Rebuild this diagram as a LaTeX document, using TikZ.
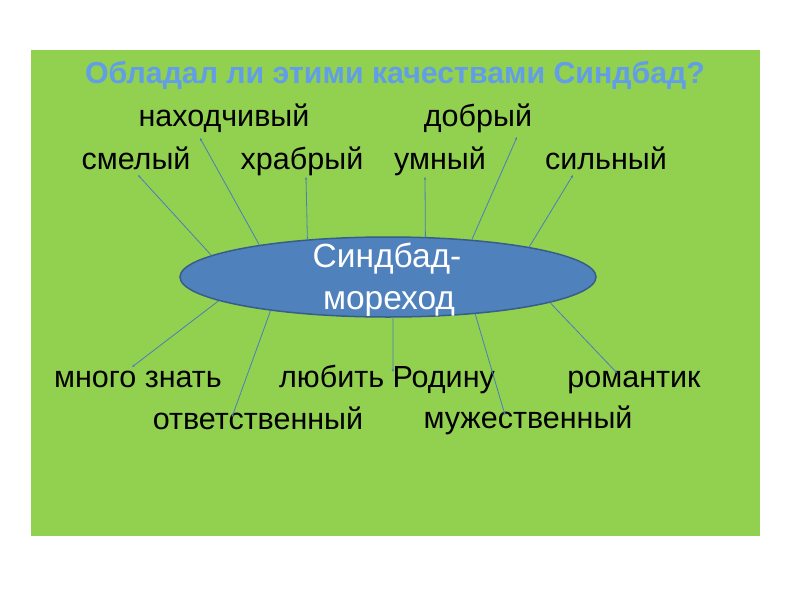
\documentclass[tikz,border=0pt]{standalone}
\usepackage{fontspec}
\setmainfont{Liberation Sans}
\usetikzlibrary{arrows.meta,shapes.geometric}
\definecolor{bggreen}{RGB}{146,208,80}
\definecolor{titleblue}{RGB}{98,158,232}
\definecolor{ellfill}{RGB}{79,129,189}
\definecolor{elldraw}{RGB}{56,93,138}
\definecolor{linkblue}{RGB}{74,126,187}
\tikzset{
  word/.style={anchor=base, inner sep=0pt, font=\fontsize{30.5}{36}\selectfont, text=black},
  titletext/.style={anchor=base, inner sep=0pt, font=\fontsize{30.3}{36}\selectfont\bfseries, text=titleblue},
  ell/.style={ellipse, draw=elldraw, line width=1.5pt, fill=ellfill, minimum width=416pt, minimum height=80pt, inner sep=0pt},
  elltext/.style={anchor=base, inner sep=0pt, font=\fontsize{33.5}{40}\selectfont, text=white},
  link/.style={draw=linkblue, line width=0.8pt, -{Stealth[length=3pt,width=2.5pt]}}
}
\begin{document}
\begin{tikzpicture}[x=1pt,y=-1pt]
\useasboundingbox (0,0) rectangle (800,600);
\fill[white] (0,0) rectangle (800,600);
\fill[bggreen] (31,50) rectangle (760,536);

\node[titletext] (title) at (395,83) {Обладал ли этими качествами Синдбад?};

\node[word] (nakh) at (224,126) {находчивый};
\node[word] (dobr) at (478,126) {добрый};
\node[word] (smel) at (136,169) {смелый};
\node[word] (khrab) at (302,169) {храбрый};
\node[word] (umn) at (440,169) {умный};
\node[word] (siln) at (606,169) {сильный};
\node[word] (mnogo) at (138,387) {много знать};
\node[word] (lyub) at (387,387) {любить Родину};
\node[word] (roman) at (634,387) {романтик};
\node[word] (otv) at (258,429) {ответственный};
\node[word] (muzh) at (528,428) {мужественный};

\coordinate (e1) at (138,175);
\coordinate (e2) at (200,138);
\coordinate (e3) at (306,177);
\coordinate (e4) at (425,177);
\coordinate (e5) at (517,137);
\coordinate (e6) at (573,175);
\coordinate (e7) at (132,367);
\coordinate (e8) at (232,417);
\coordinate (e9) at (393,372);
\coordinate (e10) at (505,415);
\coordinate (e11) at (617,373);

\node[ell] (sind) at (388,277) {};

\draw[link] (sind.173) -- (e1);
\draw[link] (sind.166) -- (e2);
\draw[link] (sind.155.3) -- (e3);
\draw[link] (sind.47.4) -- (e4);
\draw[link] (sind.24.7) -- (e5);
\draw[link] (sind.12.7) -- (e6);
\draw[link] (sind.188) -- (e7);
\draw[link] (sind.196.9) -- (e8);
\draw[link] (sind.277) -- (e9);
\draw[link] (sind.337.1) -- (e10);
\draw[link] (sind.351) -- (e11);

\node[elltext] (sind1) at (387,267) {Синдбад-};
\node[elltext] (sind2) at (389,309) {мореход};
\end{tikzpicture}
\end{document}
